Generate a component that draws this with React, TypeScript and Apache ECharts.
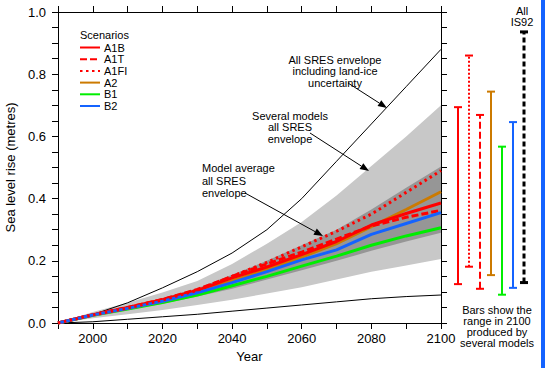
import React, { useEffect, useRef } from 'react';
import * as echarts from 'echarts';

// ---- data ----
const years = [1990, 2000, 2010, 2020, 2030, 2040, 2050, 2060, 2070, 2080, 2090, 2100];

// scenario model-average curves (metres)
const a1b = [0, 0.027, 0.05, 0.075, 0.105, 0.145, 0.18, 0.22, 0.262, 0.315, 0.352, 0.386];
const a1t = [0, 0.027, 0.05, 0.076, 0.108, 0.15, 0.19, 0.228, 0.27, 0.312, 0.34, 0.362];
const a1fi = [0, 0.026, 0.048, 0.074, 0.105, 0.15, 0.195, 0.245, 0.295, 0.35, 0.42, 0.49];
const a2 = [0, 0.025, 0.047, 0.07, 0.098, 0.135, 0.172, 0.212, 0.255, 0.31, 0.365, 0.422];
const b1 = [0, 0.025, 0.045, 0.066, 0.09, 0.12, 0.15, 0.183, 0.215, 0.25, 0.28, 0.306];
const b2 = [0, 0.026, 0.047, 0.07, 0.097, 0.13, 0.165, 0.203, 0.235, 0.285, 0.32, 0.355];

// envelopes
const landIceUpper = [0, 0.027, 0.065, 0.113, 0.165, 0.225, 0.3, 0.4, 0.52, 0.64, 0.76, 0.88];
const landIceLower = [0, 0.004, 0.012, 0.02, 0.028, 0.038, 0.048, 0.058, 0.068, 0.078, 0.085, 0.09];
const severalUpper = [0, 0.035, 0.065, 0.098, 0.135, 0.19, 0.255, 0.325, 0.41, 0.505, 0.6, 0.7];
const severalLower = [0, 0.015, 0.028, 0.042, 0.058, 0.075, 0.095, 0.115, 0.14, 0.165, 0.185, 0.206];
const averageUpper = [0, 0.028, 0.052, 0.08, 0.112, 0.155, 0.2, 0.25, 0.3, 0.365, 0.435, 0.503];
const averageLower = [0, 0.023, 0.042, 0.062, 0.085, 0.11, 0.14, 0.17, 0.2, 0.232, 0.262, 0.29];

// range in 2100 bars
const barNames = ['A1B', 'A1FI', 'A1T', 'A2', 'B1', 'B2', 'IS92'];
const barLow = [0.125, 0.181, 0.11, 0.154, 0.091, 0.113, 0.13];
const barHigh = [0.694, 0.86, 0.669, 0.744, 0.567, 0.646, 0.936];

// ---- styles ----
const RED = '#ff0000';
const ORANGE = '#cc7a00';
const GREEN = '#00ee00';
const BLUE = '#1463ff';
const FONT = 'Liberation Sans, Arial, Helvetica, sans-serif';

const barStyle: Record<string, { color: string; dash: number[] | null; width: number }> = {
  A1B: { color: RED, dash: null, width: 2 },
  A1FI: { color: RED, dash: [2, 2], width: 2 },
  A1T: { color: RED, dash: [7, 3], width: 2 },
  A2: { color: ORANGE, dash: null, width: 2 },
  B1: { color: GREEN, dash: null, width: 2 },
  B2: { color: BLUE, dash: null, width: 2 },
  IS92: { color: '#000000', dash: [5, 3], width: 3 },
};

const pairs = (ys: number[]) => years.map((y, i) => [y, ys[i]]);

function arrow(x1: number, y1: number, x2: number, y2: number) {
  const ang = Math.atan2(y2 - y1, x2 - x1);
  const len = 9;
  const half = 3.5;
  const bx = x2 - len * Math.cos(ang);
  const by = y2 - len * Math.sin(ang);
  const px = -Math.sin(ang) * half;
  const py = Math.cos(ang) * half;
  return [
    { type: 'line', z: 100, shape: { x1, y1, x2: bx, y2: by }, style: { stroke: '#000', lineWidth: 1 }, silent: true },
    {
      type: 'polygon',
      z: 100,
      shape: { points: [[x2, y2], [bx + px, by + py], [bx - px, by - py]] },
      style: { fill: '#000' },
      silent: true,
    },
  ];
}

function txt(x: number, y: number, text: string, align: string, size = 11, lh = 11.5) {
  return {
    type: 'text',
    x,
    y,
    z: 100,
    silent: true,
    style: { text, fill: '#000', font: `${size}px ${FONT}`, align, verticalAlign: 'top', lineHeight: lh },
  };
}

// envelope band drawn as one polygon through the axes' scales
function band(name: string, lower: number[], upper: number[], color: string, z: number) {
  return {
    name,
    type: 'custom',
    xAxisIndex: 0,
    yAxisIndex: 0,
    silent: true,
    z,
    data: years.map((y, i) => [y, lower[i], upper[i]]),
    renderItem: (params: any, api: any) => {
      if (params.dataIndex !== 0) return null;
      const top = years.map((y, i) => api.coord([y, upper[i]]));
      const bottom = years.map((y, i) => api.coord([y, lower[i]])).reverse();
      return {
        type: 'polygon',
        shape: { points: top.concat(bottom) },
        style: { fill: color, stroke: 'none' },
      };
    },
  };
}

export default function App() {
  const ref = useRef<HTMLDivElement>(null);
  useEffect(() => {
    if (!ref.current) return;
    const chart = echarts.init(ref.current, undefined, { renderer: 'svg' });

    const scenario = (name: string, data: number[], color: string, type: any) => ({
      name,
      type: 'line',
      xAxisIndex: 0,
      yAxisIndex: 0,
      data: pairs(data),
      symbol: 'none',
      showSymbol: false,
      lineStyle: { color, width: 3, type },
      itemStyle: { color },
      z: 5,
    });

    const option: any = {
      animation: false,
      backgroundColor: '#ffffff',
      textStyle: { fontFamily: FONT },
      grid: [
        { left: 58, right: 105, top: 12, bottom: 45, containLabel: false, outerBoundsMode: 'none' },
        { left: 452, right: 17, top: 12, bottom: 45, containLabel: false, outerBoundsMode: 'none' },
      ],
      legend: {
        orient: 'vertical',
        left: 79,
        top: 42,
        itemWidth: 20,
        itemHeight: 10,
        itemGap: 0.7,
        padding: 0,
        itemStyle: { opacity: 0 },
        textStyle: { fontSize: 11, lineHeight: 10, color: '#000', fontFamily: FONT, padding: [0, 0, 0, -1] },
        data: ['A1B', 'A1T', 'A1FI', 'A2', 'B1', 'B2'],
      },
      xAxis: [
        {
          type: 'value',
          gridIndex: 0,
          min: 1990,
          max: 2100,
          interval: 10,
          position: 'bottom',
          name: 'Year',
          nameLocation: 'middle',
          nameGap: 26,
          nameTextStyle: { fontSize: 13, color: '#000', fontFamily: FONT },
          axisLine: { onZero: false, lineStyle: { color: '#000', width: 1 } },
          axisTick: { show: true, length: 6, lineStyle: { color: '#000' } },
          axisLabel: {
            fontSize: 13,
            color: '#000',
            fontFamily: FONT,
            margin: 9,
            formatter: (v: number) => ((v - 2000) % 20 === 0 ? String(v) : ''),
          },
          splitLine: { show: false },
        },
        {
          type: 'value',
          gridIndex: 0,
          min: 1990,
          max: 2100,
          interval: 10,
          position: 'top',
          axisLine: { onZero: false, lineStyle: { color: '#000', width: 1 } },
          axisTick: { show: true, length: 6, lineStyle: { color: '#000' } },
          axisLabel: { show: false },
          splitLine: { show: false },
        },
        {
          type: 'category',
          gridIndex: 1,
          data: barNames,
          show: false,
        },
      ],
      yAxis: [
        {
          type: 'value',
          gridIndex: 0,
          min: 0,
          max: 1,
          interval: 0.2,
          name: 'Sea level rise (metres)',
          nameLocation: 'middle',
          nameGap: 40,
          nameRotate: 90,
          nameTextStyle: { fontSize: 13, color: '#000', fontFamily: FONT },
          axisLine: { show: true, onZero: false, lineStyle: { color: '#000', width: 1 } },
          axisTick: { show: true, length: 6, lineStyle: { color: '#000' } },
          minorTick: { show: true, splitNumber: 4, length: 6, lineStyle: { color: '#000' } },
          axisLabel: {
            fontSize: 13,
            color: '#000',
            fontFamily: FONT,
            margin: 12,
            formatter: (v: number) => v.toFixed(1),
          },
          splitLine: { show: false },
          minorSplitLine: { show: false },
        },
        {
          type: 'value',
          gridIndex: 0,
          min: 0,
          max: 1,
          interval: 0.2,
          position: 'right',
          axisLine: { show: true, onZero: false, lineStyle: { color: '#000', width: 1 } },
          axisTick: { show: true, length: 6, lineStyle: { color: '#000' } },
          minorTick: { show: true, splitNumber: 4, length: 6, lineStyle: { color: '#000' } },
          axisLabel: { show: false },
          splitLine: { show: false },
          minorSplitLine: { show: false },
        },
        {
          type: 'value',
          gridIndex: 1,
          min: 0,
          max: 1,
          show: false,
          splitLine: { show: false },
        },
      ],
      series: [
        band('Several models all SRES envelope', severalLower, severalUpper, '#c8c8c8', 1),
        band('Model average all SRES envelope', averageLower, averageUpper, '#969696', 2),
        // land-ice envelope lines
        {
          name: 'landIceUpper',
          type: 'line',
          data: pairs(landIceUpper),
          symbol: 'none',
          lineStyle: { color: '#000', width: 1 },
          z: 3,
        },
        {
          name: 'landIceLower',
          type: 'line',
          data: pairs(landIceLower),
          symbol: 'none',
          lineStyle: { color: '#000', width: 1 },
          z: 3,
        },
        scenario('B1', b1, GREEN, 'solid'),
        scenario('A2', a2, ORANGE, 'solid'),
        scenario('A1T', a1t, RED, [7, 3]),
        scenario('A1B', a1b, RED, 'solid'),
        scenario('B2', b2, BLUE, 'solid'),
        scenario('A1FI', a1fi, RED, [2.5, 3.5]),
        // bars: range in 2100
        {
          name: 'range2100',
          type: 'custom',
          xAxisIndex: 2,
          yAxisIndex: 2,
          data: barNames.map((n, i) => [i, barLow[i], barHigh[i]]),
          renderItem: (params: any, api: any) => {
            const i = api.value(0);
            const lo = api.coord([i, api.value(1)]);
            const hi = api.coord([i, api.value(2)]);
            const st = barStyle[barNames[params.dataIndex]];
            const x = Math.round(lo[0]);
            const hw = 4;
            return {
              type: 'group',
              children: [
                {
                  type: 'line',
                  shape: { x1: x, y1: lo[1], x2: x, y2: hi[1] },
                  style: { stroke: st.color, lineWidth: st.width, lineDash: st.dash || undefined },
                },
                {
                  type: 'line',
                  shape: { x1: x - hw, y1: hi[1], x2: x + hw, y2: hi[1] },
                  style: { stroke: st.color, lineWidth: st.width },
                },
                {
                  type: 'line',
                  shape: { x1: x - hw, y1: lo[1], x2: x + hw, y2: lo[1] },
                  style: { stroke: st.color, lineWidth: st.width },
                },
              ],
            };
          },
          z: 5,
        },
      ],
      graphic: [
        txt(80, 29, 'Scenarios', 'left'),
        txt(335, 54, 'All SRES envelope\nincluding land-ice\nuncertainty', 'center'),
        ...arrow(348, 83, 387, 108),
        txt(290, 110, 'Several models\nall SRES\nenvelope', 'center'),
        ...arrow(310, 133, 369, 171),
        txt(202, 162, 'Model average\nall SRES\nenvelope', 'left', 11, 12.5),
        ...arrow(245, 193, 323, 236),
        txt(522, 6, 'All\nIS92', 'center', 11, 10.5),
        txt(497, 304, 'Bars show the\nrange in 2100\nproduced by\nseveral models', 'center', 11, 11.2),
        {
          type: 'rect',
          z: 100,
          shape: { x: 541, y: 0, width: 4, height: 368 },
          style: { fill: BLUE },
          silent: true,
        },
      ],
    };

    chart.setOption(option);
    return () => chart.dispose();
  }, []);

  return (
    <div
      ref={ref}
      style={{ position: 'fixed', left: 0, top: 0, width: 546, height: 368, background: '#fff' }}
    />
  );
}
